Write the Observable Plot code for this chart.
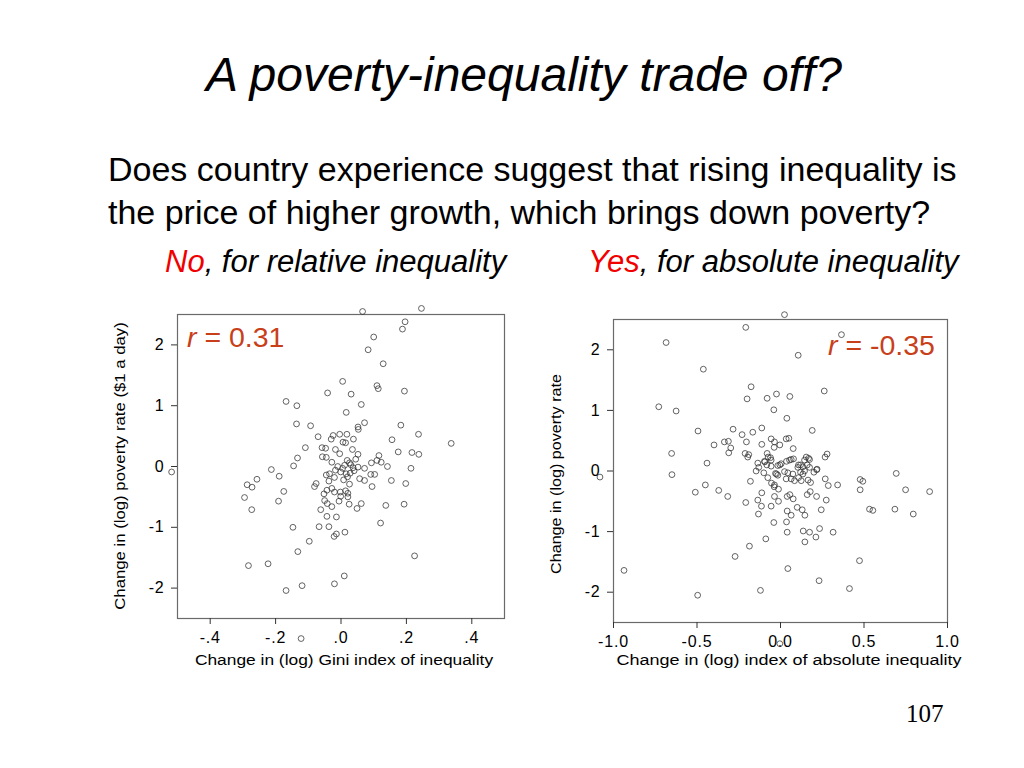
<!DOCTYPE html>
<html>
<head>
<meta charset="utf-8">
<script src="https://cdn.jsdelivr.net/npm/d3@7"></script>
<script src="https://cdn.jsdelivr.net/npm/@observablehq/plot@0.6"></script>
<style>
  html, body { margin: 0; padding: 0; background: #fff; }
  #page { position: relative; width: 1024px; height: 768px; overflow: hidden; font-family: "Liberation Sans", Arial, sans-serif; color: #000; }
  .abs { position: absolute; white-space: nowrap; }
  .title { left: 0; width: 1048px; text-align: center; top: 47px; font-size: 48px; font-style: italic; line-height: 56px; }
  .body { left: 108px; font-size: 34px; line-height: 40px; }
  .sub { font-size: 31px; font-style: italic; line-height: 34px; }
  .red { color: #f00000; }
  .rlab { font-size: 28.5px; color: #c8401a; line-height: 32px; }
  .axl { font-size: 15.5px; line-height: 18px; }
  .pnum { font-family: "Liberation Serif", "Times New Roman", serif; font-size: 25px; line-height: 28px; }
  #left svg text, #right svg text { letter-spacing: 0.8px; }
</style>
</head>
<body>
<div id="page">
  <div class="abs title">A poverty-inequality trade off?</div>
  <div class="abs body" style="top:149px">Does country experience suggest that rising inequality is</div>
  <div class="abs body" style="top:192px">the price of higher growth, which brings down poverty?</div>
  <div class="abs sub" style="left:165px; top:245px"><span class="red">No</span>, for relative inequality</div>
  <div class="abs sub" style="left:588px; top:245px"><span class="red">Yes</span>, for absolute inequality</div>
  <div id="left" class="abs" style="left:100px; top:290px"></div>
  <div id="right" class="abs" style="left:540px; top:290px"></div>
  <div class="abs rlab" style="left:187px; top:321px"><i>r</i> = 0.31</div>
  <div class="abs rlab" style="left:828px; top:329px"><i>r</i> = -0.35</div>
  <div class="abs axl" style="left:344px; top:651px; transform:translateX(-50%) scaleX(1.12)">Change in (log) Gini index of inequality</div>
  <div class="abs axl" style="left:789px; top:651px; transform:translateX(-50%) scaleX(1.16)">Change in (log) index of absolute inequality</div>
  <div class="abs axl" style="left:120px; top:466px; transform:translate(-50%,-50%) rotate(-90deg) scaleX(1.08)">Change in (log) poverty rate ($1 a day)</div>
  <div class="abs axl" style="left:556px; top:474px; transform:translate(-50%,-50%) rotate(-90deg) scaleX(1.04)">Change in (log) poverty rate</div>
  <div class="abs pnum" style="left:906px; top:700px">107</div>
</div>
<script>
// Left panel: change in (log) Gini index vs change in (log) poverty rate
const leftGini = [0.066,0.246,0.196,0.188,0.100,0.083,0.129,0.005,0.110,0.114,0.194,-0.041,0.031,-0.168,-0.135,0.062,0.016,-0.136,-0.093,0.072,0.052,0.053,0.183,0.237,0.337,0.156,-0.070,-0.109,-0.133,-0.145,0.175,0.217,0.238,0.214,-0.518,-0.213,-0.189,-0.257,
 -0.030,-0.024,-0.004,0.018,0.006,0.038,0.014,-0.058,-0.047,-0.017,-0.004,0.035,0.052,-0.057,-0.045,0.116,0.110,0.093,0.123,0.142,-0.028,0.019,0.026,0.011,0.037,0.052,0.072,0.091,0.103,-0.017,-0.001,-0.035,-0.045,0.016,0.028,0.057,0.072,0.154,-0.037,0.026,0.095,0.198,-0.076,-0.081,-0.028,-0.043,-0.052,-0.020,-0.002,0.014,0.021,-0.001,0.021,-0.050,-0.042,-0.006,0.025,0.062,0.049,0.137,0.193,-0.062,-0.028,-0.043,-0.014,0.121,-0.067,-0.037,
 -0.287,-0.272,-0.295,-0.175,-0.191,-0.273,-0.147,0.012,-0.014,-0.021,-0.097,-0.132,-0.283,-0.223,0.225,0.010,-0.020,-0.119,-0.168,-0.122,
 0.005,0.030,0.040,-0.010,0.020,0.045,-0.020,0.008];
const leftPov = [2.55,2.60,2.38,2.26,2.13,1.92,1.69,1.40,1.33,1.28,1.24,1.21,1.19,1.07,1.00,1.02,0.89,0.70,0.67,0.72,0.65,0.61,0.68,0.53,0.38,0.44,0.49,0.31,0.14,0.01,0.24,0.23,0.20,-0.03,-0.09,-0.05,-0.16,-0.21,
 0.45,0.51,0.53,0.53,0.40,0.45,0.39,0.31,0.30,0.28,0.21,0.28,0.20,0.16,0.15,0.18,0.10,0.06,0.07,0.00,0.07,0.10,0.06,0.02,-0.02,-0.01,-0.03,-0.13,-0.13,-0.06,-0.09,-0.12,-0.14,-0.12,-0.11,-0.20,-0.23,-0.23,-0.24,-0.29,-0.33,-0.28,-0.28,-0.33,-0.36,-0.39,-0.45,-0.42,-0.42,-0.40,-0.44,-0.49,-0.50,-0.56,-0.61,-0.57,-0.62,-0.61,-0.69,-0.64,-0.62,-0.71,-0.66,-0.82,-0.83,-0.93,-0.99,-0.99,
 -0.30,-0.34,-0.51,-0.41,-0.57,-0.71,-1.00,-1.08,-1.11,-1.15,-1.23,-1.40,-1.63,-1.60,-1.47,-1.80,-1.93,-1.96,-2.04,-2.83,
 -0.03,0.03,-0.07,0.00,-0.17,0.12,-0.18,-0.22];

// Right panel: change in (log) index of absolute inequality vs change in (log) poverty rate
const rightAbs = [0.024,-0.208,0.365,-0.685,0.106,-0.462,-0.176,-0.024,-0.200,-0.080,0.056,0.262,-0.729,-0.625,-0.040,0.038,-0.494,-0.284,-0.112,0.190,-0.230,-0.166,-0.204,-0.336,-0.312,-0.398,-0.298,-0.310,-0.112,-0.056,-0.036,-0.004,-0.038,0.034,0.050,0.076,-0.652,-0.440,-0.212,-0.190,-0.196,-0.080,-0.074,-0.136,-0.094,-0.056,-0.056,-0.004,0.064,0.078,0.154,0.174,0.267,0.279,-0.146,-0.130,-0.100,-0.024,-0.016,0.024,0.108,0.134,0.144,0.120,0.219,0.200,0.693,0.477,0.268,-1.081,-0.650,
 -0.450,-0.510,-0.370,-0.316,-0.208,-0.180,-0.076,-0.054,-0.038,-0.012,-0.112,-0.136,-0.036,-0.114,-0.056,-0.012,-0.132,-0.040,0.040,0.056,0.076,0.040,0.064,0.036,0.100,0.130,0.146,0.160,0.178,0.216,0.274,0.286,0.342,0.244,0.234,0.040,0.136,0.174,0.146,0.212,0.315,-0.088,-0.186,-0.272,-0.937,0.044,0.473,0.231,0.413,-0.120,-0.496,-0.004,0.493,0.477,0.533,0.553,0.685,0.749,0.795,0.893,
 -0.096,-0.060,-0.082,-0.016,0.004,0.036,0.054,0.104,0.120,0.144,0.168,0.160,0.174,0.134,0.216,-0.030,0.044,0.074,0.034,0.064,0.084,0.108,0.124,0.165,0.180,-0.036];
const rightPov = [2.58,2.37,2.25,2.12,1.91,1.68,1.39,1.27,1.19,1.20,1.23,1.32,1.06,0.99,1.01,0.87,0.66,0.69,0.71,0.67,0.60,0.64,0.48,0.48,0.49,0.43,0.38,0.30,0.44,0.53,0.48,0.43,0.39,0.53,0.54,0.37,0.29,0.13,0.29,0.27,0.23,0.29,0.23,0.13,0.15,0.18,0.08,0.10,0.19,0.20,0.23,0.19,0.23,0.28,0.00,0.06,-0.03,-0.05,-0.07,-0.01,0.10,0.07,0.00,-0.02,0.03,-0.02,-0.04,-0.14,-0.13,-0.10,-0.06,
 -0.23,-0.35,-0.32,-0.42,-0.52,-0.17,-0.11,-0.20,-0.26,-0.30,-0.36,-0.48,-0.42,-0.58,-0.58,-0.50,-0.71,-0.85,-0.42,-0.39,-0.46,-0.66,-0.73,-0.84,-0.60,-0.64,-0.73,-0.39,-0.34,-0.42,-0.48,-0.24,-0.23,-0.64,-0.95,-1.01,-0.99,-1.01,-1.17,-1.09,-1.01,-1.12,-1.24,-1.41,-1.64,-1.61,-1.48,-1.81,-1.94,-1.97,-2.05,-2.85,-0.17,-0.31,-0.63,-0.65,-0.63,-0.31,-0.71,-0.34,
 0.16,0.22,0.10,0.09,0.12,0.16,0.18,0.06,0.10,0.18,0.21,0.10,0.06,-0.05,0.02,-0.04,-0.03,-0.05,-0.13,-0.13,-0.16,-0.11,-0.16,-0.15,-0.19,-0.23];

// Tick values and labels
const leftXTicks = [-0.4, -0.2, 0, 0.2, 0.4];
const leftXLabels = ["-.4", "-.2", ".0", ".2", ".4"];
const rightXTicks = [-1, -0.5, 0, 0.5, 1];
const rightXLabels = ["-1.0", "-0.5", "0.0", "0.5", "1.0"];
const yTicks = [2, 1, 0, -1, -2];
const yLabels = ["2", "1", "0", "-1", "-2"];

const leftData = leftGini.map((x, i) => ({x, y: leftPov[i]}));
const rightData = rightAbs.map((x, i) => ({x, y: rightPov[i]}));

function panel(data, xDomain, xTicks, xLabels, dims) {
  return Plot.plot({
    width: dims.width,
    height: dims.height,
    marginLeft: dims.ml,
    marginRight: dims.mr,
    marginTop: dims.mt,
    marginBottom: dims.mb,
    style: {fontFamily: "'Liberation Sans', Arial, sans-serif", fontSize: "16px", color: "#000", background: "transparent", overflow: "visible"},
    x: {domain: xDomain},
    y: {domain: [-2.5, 2.5]},
    marks: [
      Plot.frame({stroke: "#6a6a6a", strokeWidth: 1.2}),
      Plot.axisX({ticks: xTicks, tickFormat: d => xLabels[xTicks.indexOf(d)], tickSize: 6, tickPadding: 7, label: null, stroke: "#333"}),
      Plot.axisY({ticks: yTicks, tickFormat: d => yLabels[yTicks.indexOf(d)], tickSize: 6, tickPadding: 7, label: null, stroke: "#333"}),
      Plot.dot(data, {x: "x", y: "y", r: 2.9, stroke: "#333", strokeWidth: 0.9, strokeOpacity: 0.85})
    ]
  });
}

document.getElementById("left").appendChild(
  panel(leftData, [-0.5, 0.5], leftXTicks, leftXLabels, {width: 420, height: 400, ml: 77, mr: 16, mt: 24, mb: 72})
);
document.getElementById("right").appendChild(
  panel(rightData, [-1, 1], rightXTicks, rightXLabels, {width: 440, height: 400, ml: 73, mr: 33, mt: 29, mb: 68})
);
</script>
</body>
</html>
